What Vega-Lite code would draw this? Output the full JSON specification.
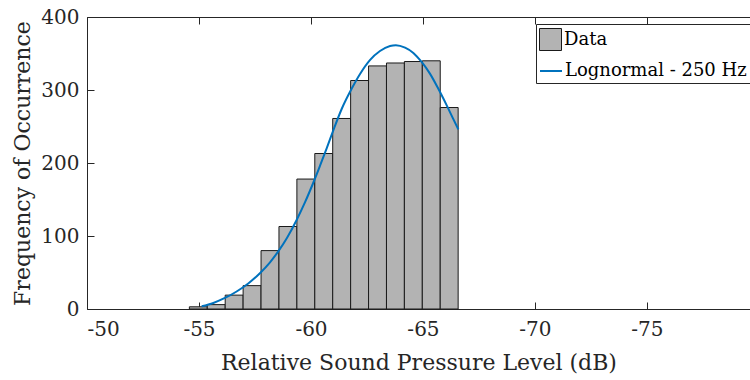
{
  "$schema": "https://vega.github.io/schema/vega-lite/v6.json",
  "width": 663,
  "height": 292,
  "autosize": {"type": "none"},
  "padding": {"left": 87, "top": 17, "right": 0, "bottom": 71},
  "config": {
    "view": {"stroke": null},
    "font": "DejaVu Serif",
    "axis": {
      "labelFont": "DejaVu Serif",
      "titleFont": "DejaVu Serif",
      "labelFontSize": 20,
      "titleFontSize": 22,
      "titleFontWeight": "normal",
      "labelColor": "#262626",
      "titleColor": "#262626",
      "domainColor": "#262626",
      "tickColor": "#262626",
      "grid": false
    },
    "legend": {
      "labelFont": "DejaVu Serif",
      "titleFont": "DejaVu Serif",
      "labelFontSize": 18,
      "labelColor": "#000000",
      "labelLimit": 0,
      "labelOffset": 2,
      "symbolSize": 484,
      "symbolOpacity": 1
    }
  },
  "datasets": {
    "bins": [
      {"lo": -54.57, "hi": -55.37, "count": 3},
      {"lo": -55.37, "hi": -56.17, "count": 6},
      {"lo": -56.17, "hi": -56.97, "count": 19},
      {"lo": -56.97, "hi": -57.77, "count": 32},
      {"lo": -57.77, "hi": -58.57, "count": 80},
      {"lo": -58.57, "hi": -59.37, "count": 113},
      {"lo": -59.37, "hi": -60.17, "count": 178},
      {"lo": -60.17, "hi": -60.97, "count": 213},
      {"lo": -60.97, "hi": -61.77, "count": 261},
      {"lo": -61.77, "hi": -62.57, "count": 313},
      {"lo": -62.57, "hi": -63.37, "count": 333},
      {"lo": -63.37, "hi": -64.17, "count": 337},
      {"lo": -64.17, "hi": -64.97, "count": 339},
      {"lo": -64.97, "hi": -65.77, "count": 340},
      {"lo": -65.77, "hi": -66.57, "count": 276}
    ],
    "fit": [
      {"db": -55.12, "freq": 3.7},
      {"db": -55.64, "freq": 8.3},
      {"db": -56.16, "freq": 15.1},
      {"db": -56.68, "freq": 24},
      {"db": -57.2, "freq": 35},
      {"db": -57.72, "freq": 49},
      {"db": -58.17, "freq": 64},
      {"db": -58.54, "freq": 79},
      {"db": -58.92, "freq": 97},
      {"db": -59.36, "freq": 122},
      {"db": -59.73, "freq": 146},
      {"db": -60.13, "freq": 175},
      {"db": -60.4, "freq": 196},
      {"db": -60.7, "freq": 220},
      {"db": -61.0, "freq": 245},
      {"db": -61.37, "freq": 274},
      {"db": -61.82, "freq": 302},
      {"db": -62.19, "freq": 322},
      {"db": -62.63, "freq": 341},
      {"db": -63.08, "freq": 353.5},
      {"db": -63.53, "freq": 360.4},
      {"db": -63.79, "freq": 361.4},
      {"db": -64.2, "freq": 358},
      {"db": -64.57, "freq": 350.8},
      {"db": -64.94, "freq": 338.4},
      {"db": -65.31, "freq": 322.4},
      {"db": -65.68, "freq": 302},
      {"db": -66.06, "freq": 279},
      {"db": -66.35, "freq": 260.5},
      {"db": -66.58, "freq": 246}
    ]
  },
  "layer": [
    {
      "data": {"name": "bins"},
      "mark": {"type": "rect", "stroke": "#1a1a1a", "strokeWidth": 1},
      "encoding": {
        "x": {
          "field": "lo",
          "type": "quantitative",
          "scale": {"domain": [-50, -79.6], "nice": false, "zero": false},
          "title": "Relative Sound Pressure Level (dB)",
          "axis": {
            "orient": "bottom",
            "values": [-50, -55, -60, -65, -70, -75],
            "labelExpr": "'' + datum.value",
            "tickSize": -7,
            "labelPadding": 17,
            "titlePadding": 13
          }
        },
        "x2": {"field": "hi"},
        "y": {
          "field": "count",
          "type": "quantitative",
          "scale": {"domain": [0, 400], "nice": false},
          "title": "Frequency of Occurrence",
          "axis": {
            "values": [0, 100, 200, 300, 400],
            "tickSize": -7,
            "labelPadding": 15,
            "titlePadding": 6
          }
        },
        "y2": {"datum": 0},
        "fill": {
          "datum": "Data",
          "type": "nominal",
          "scale": {"domain": ["Data"], "range": ["#b3b3b3"]},
          "legend": {
            "title": null,
            "orient": "none",
            "legendX": 449,
            "legendY": 8,
            "padding": 3,
            "symbolType": "square",
            "symbolStrokeColor": "#1a1a1a",
            "symbolStrokeWidth": 1
          }
        }
      }
    },
    {
      "data": {"name": "fit"},
      "mark": {"type": "line", "strokeWidth": 2, "interpolate": "monotone"},
      "encoding": {
        "x": {
          "field": "db",
          "type": "quantitative",
          "axis": {
            "orient": "top",
            "values": [-50, -55, -60, -65, -70, -75],
            "labels": false,
            "title": null,
            "tickSize": -7
          }
        },
        "y": {"field": "freq", "type": "quantitative"},
        "stroke": {
          "datum": "Lognormal - 250 Hz",
          "type": "nominal",
          "scale": {"domain": ["Lognormal - 250 Hz"], "range": ["#0072bd"]},
          "legend": {
            "title": " ",
            "titleFontSize": 18,
            "titlePadding": 14,
            "orient": "none",
            "legendX": 449,
            "legendY": 7,
            "padding": 3,
            "strokeColor": "#262626",
            "cornerRadius": 0,
            "symbolType": "stroke",
            "symbolStrokeWidth": 2
          }
        }
      }
    }
  ],
  "resolve": {"axis": {"x": "independent"}}
}
